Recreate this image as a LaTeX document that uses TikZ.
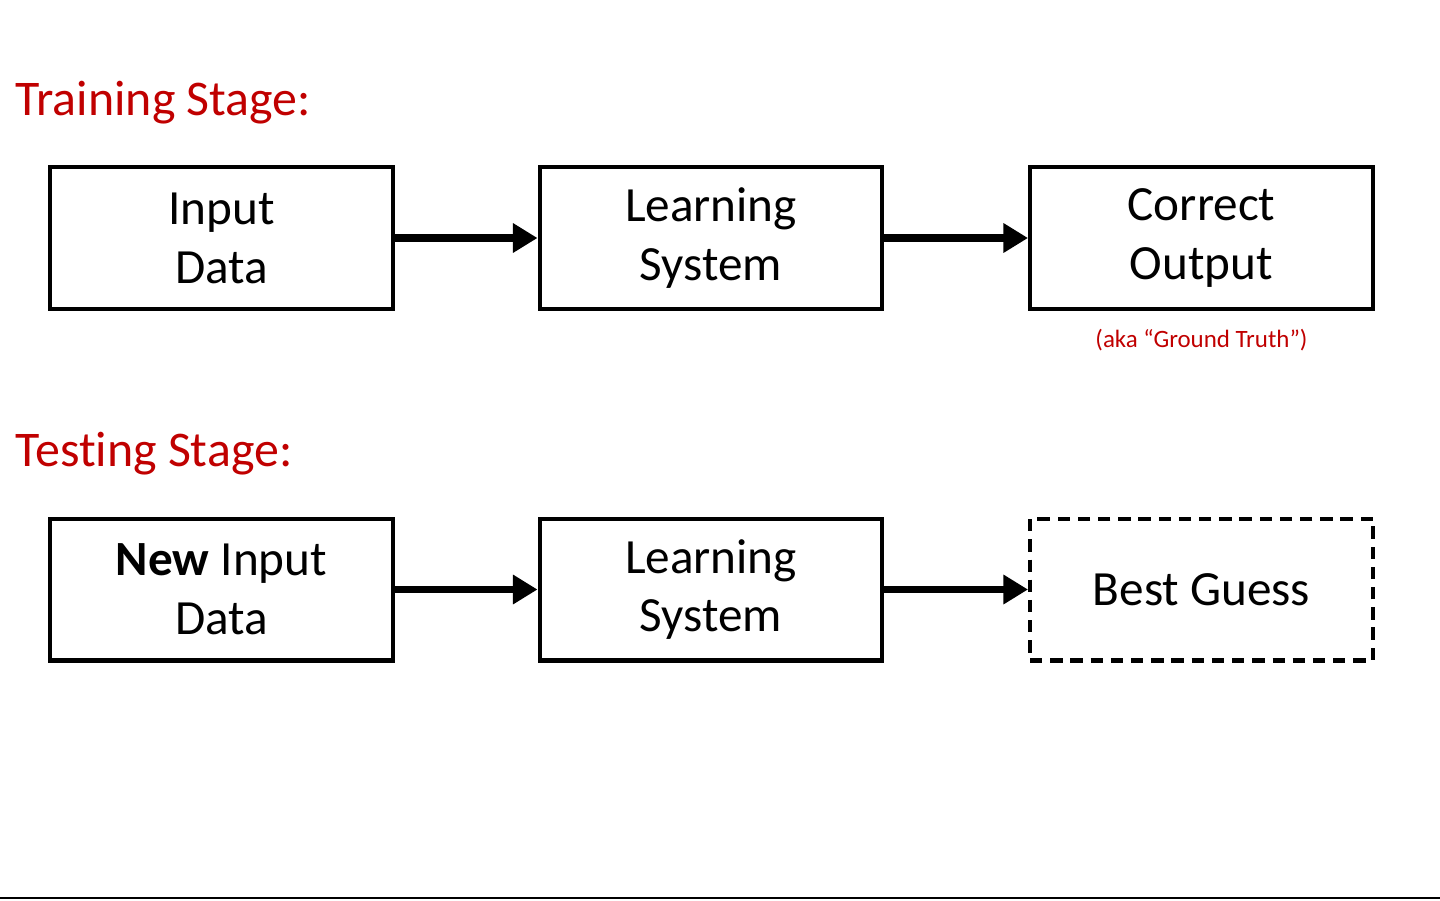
\documentclass[tikz,border=0pt]{standalone}
\usepackage{xcolor}
\usepackage{fontspec}
\setmainfont{Carlito}[Ligatures=NoCommon]
\usepackage{tikz}
\usetikzlibrary{arrows.meta}
\usetikzlibrary{positioning}
\definecolor{stagered}{RGB}{192,0,0}

\begin{document}
\begin{tikzpicture}[x=0.02cm,y=-0.02cm,
    blockbox/.style={draw,line width=2.3pt,minimum width=6.86cm,minimum height=2.84cm,align=center,font=\fontsize{28}{33.5}\selectfont},
    guessbox/.style={blockbox,dash pattern=on 7pt off 4.5pt},
    flow/.style={line width=4.5pt,-{Triangle[length=14pt,width=16pt]}},
    stagelabel/.style={anchor=base west,text=stagered,font=\fontsize{28.4}{33}\selectfont,inner sep=0pt}]
\useasboundingbox (0,0) rectangle (1440,900);
\node[stagelabel] (train) at (15,115) {Training Stage:};
\node[stagelabel] (test) at (15,466) {Testing Stage:};
% training row
\node[blockbox] (input) at (221.5,238) {Input\\Data};
\node[blockbox] (learn1) at (711,238) {Learning\\System};
\node[blockbox] (correct) at (1201.5,238) {Correct\\Output};
\node[text=stagered,font=\fontsize{14.2}{16}\selectfont,below=7pt of correct] (aka) {(aka “Ground Truth”)};
\draw[flow] (input) -- (learn1);
\draw[flow] (learn1) -- (correct);
% testing row
\node[blockbox] (newinput) at (221.5,589.5) {\textbf{New} Input\\Data};
\node[blockbox] (learn2) at (711,589.5) {Learning\\System};
\node[guessbox] (guess) at (1201.5,589.5) {Best Guess};
\draw[flow] (newinput) -- (learn2);
\draw[flow] (learn2) -- (guess);
\draw[line width=1.2pt] (0,898) -- (1440,898);
\end{tikzpicture}
\end{document}
